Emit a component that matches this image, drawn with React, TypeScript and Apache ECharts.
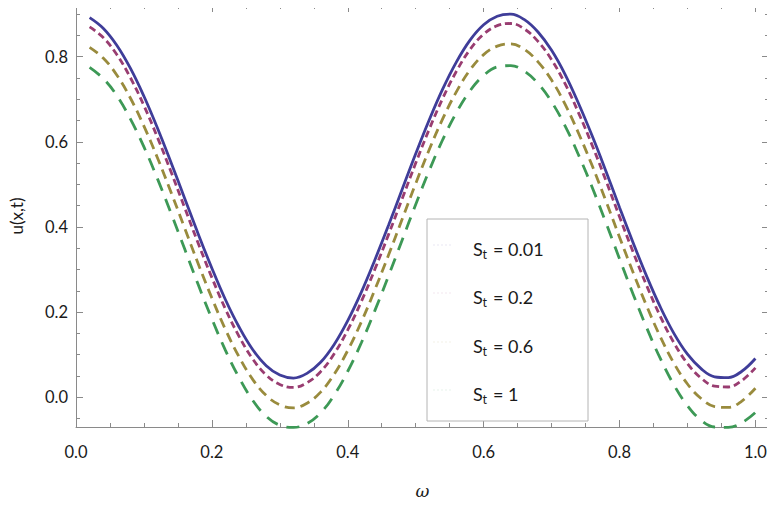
import React, { useEffect, useRef } from "react";
import * as echarts from "echarts";

const omega = [
  0.02, 0.04, 0.06, 0.08, 0.1, 0.12, 0.14, 0.16, 0.18, 0.2,
  0.22, 0.24, 0.26, 0.28, 0.3, 0.32, 0.34, 0.36, 0.38, 0.4,
  0.42, 0.44, 0.46, 0.48, 0.5, 0.52, 0.54, 0.56, 0.58, 0.6,
  0.62, 0.64, 0.66, 0.68, 0.7, 0.72, 0.74, 0.76, 0.78, 0.8,
  0.82, 0.84, 0.86, 0.88, 0.9, 0.92, 0.94, 0.96, 0.98, 1.0,
];

const uSt001 = [
  0.892, 0.867, 0.827, 0.773, 0.707, 0.632, 0.551, 0.467, 0.383, 0.303,
  0.229, 0.165, 0.112, 0.074, 0.052, 0.045, 0.056, 0.082, 0.124, 0.18,
  0.247, 0.323, 0.404, 0.488, 0.572, 0.652, 0.725, 0.788, 0.839, 0.875,
  0.895, 0.9, 0.887, 0.858, 0.815, 0.758, 0.689, 0.613, 0.531, 0.446,
  0.363, 0.284, 0.212, 0.15, 0.101, 0.067, 0.048, 0.046, 0.061, 0.091,
];
const uSt02 = [
  0.87, 0.845, 0.805, 0.751, 0.685, 0.61, 0.529, 0.445, 0.361, 0.281,
  0.207, 0.143, 0.09, 0.052, 0.03, 0.023, 0.034, 0.06, 0.102, 0.158,
  0.225, 0.301, 0.382, 0.466, 0.55, 0.63, 0.703, 0.766, 0.817, 0.853,
  0.873, 0.878, 0.865, 0.836, 0.793, 0.736, 0.667, 0.591, 0.509, 0.424,
  0.341, 0.262, 0.19, 0.128, 0.079, 0.045, 0.026, 0.024, 0.039, 0.069,
];
const uSt06 = [
  0.822, 0.797, 0.757, 0.703, 0.637, 0.562, 0.481, 0.397, 0.313, 0.233,
  0.159, 0.095, 0.042, 0.004, -0.018, -0.025, -0.014, 0.012, 0.054, 0.11,
  0.177, 0.253, 0.334, 0.418, 0.502, 0.582, 0.655, 0.718, 0.769, 0.805,
  0.825, 0.83, 0.817, 0.788, 0.745, 0.688, 0.619, 0.543, 0.461, 0.376,
  0.293, 0.214, 0.142, 0.08, 0.031, -0.003, -0.022, -0.024, -0.009, 0.021,
];
const uSt1 = [
  0.775, 0.749, 0.709, 0.654, 0.588, 0.513, 0.432, 0.348, 0.264, 0.184,
  0.11, 0.046, -0.007, -0.045, -0.066, -0.071, -0.062, -0.037, 0.005, 0.061,
  0.128, 0.204, 0.285, 0.369, 0.453, 0.533, 0.606, 0.669, 0.72, 0.756,
  0.776, 0.779, 0.766, 0.737, 0.694, 0.637, 0.568, 0.492, 0.41, 0.325,
  0.242, 0.163, 0.091, 0.029, -0.02, -0.054, -0.07, -0.071, -0.06, -0.036,
];

const legendLabels = ["0.01", "0.2", "0.6", "1"];
const seriesColors = ["#3F3D99", "#993D71", "#998B3D", "#3D9956"];
const seriesDashes: (number[] | "solid")[] = ["solid", [7, 4], [10, 6], [13, 9]];
const seriesValues = [uSt001, uSt02, uSt06, uSt1];

const xMajor = [0, 0.2, 0.4, 0.6, 0.8, 1.0];
const xMinor = [0.05, 0.1, 0.15, 0.25, 0.3, 0.35, 0.45, 0.5, 0.55, 0.65, 0.7, 0.75, 0.85, 0.9, 0.95];
const yMajor = [0, 0.2, 0.4, 0.6, 0.8];
const yMinor = [-0.05, 0.05, 0.1, 0.15, 0.25, 0.3, 0.35, 0.45, 0.5, 0.55, 0.65, 0.7, 0.75, 0.85, 0.9];

const X_MIN = 0;
const X_MAX = 1.02;
const Y_MIN = -0.07;
const Y_MAX = 0.9215;

const GRAY = "#8a8a8a";
const FONT = "Lato";

function frameAxis(kind: "x" | "y", position: string, ticks: number[], len: number, main: boolean, labels: boolean) {
  const isX = kind === "x";
  return {
    type: "value",
    min: isX ? X_MIN : Y_MIN,
    max: isX ? X_MAX : Y_MAX,
    position,
    axisLine: { show: main, onZero: false, lineStyle: { color: GRAY, width: 1 } },
    axisTick: { show: true, inside: true, length: len, customValues: ticks, lineStyle: { color: GRAY, width: 1 } },
    axisLabel: labels
      ? {
          show: true,
          customValues: ticks,
          formatter: (v: number) => v.toFixed(1),
          fontFamily: FONT,
          fontSize: 16.5,
          color: "#1a1a1a",
          margin: isX ? 16 : 8,
        }
      : { show: false },
    splitLine: { show: false },
    minorTick: { show: false },
  } as any;
}

export default function App() {
  const ref = useRef<HTMLDivElement>(null);

  useEffect(() => {
    if (!ref.current) return;
    const chart = echarts.init(ref.current, undefined, { renderer: "svg" });

    const legendRows = [249, 297, 346, 394];
    const legendGraphics: any[] = [
      {
        type: "rect",
        shape: { x: 427, y: 219, width: 161, height: 202 },
        style: { fill: "#ffffff", stroke: "#b4b4b4", lineWidth: 1 },
        z: 10,
      },
    ];
    legendLabels.forEach((lab, i) => {
      const y = legendRows[i];
      legendGraphics.push({
        type: "line",
        shape: { x1: 433, y1: y - 4, x2: 453, y2: y - 4 },
        style: { stroke: seriesColors[i], opacity: 0.12, lineWidth: 1, lineDash: [2, 2] },
        z: 11,
      });
      legendGraphics.push({
        type: "text",
        x: 473,
        y,
        style: { text: "S", fontFamily: FONT, fontSize: 18, fill: "#1a1a1a", verticalAlign: "middle", textAlign: "left" },
        z: 11,
      });
      legendGraphics.push({
        type: "text",
        x: 482.5,
        y: y + 5,
        style: { text: "t", fontFamily: FONT, fontSize: 12.5, fill: "#1a1a1a", verticalAlign: "middle", textAlign: "left" },
        z: 11,
      });
      legendGraphics.push({
        type: "text",
        x: 493,
        y,
        style: { text: "= " + lab, fontFamily: FONT, fontSize: 18, fill: "#1a1a1a", verticalAlign: "middle", textAlign: "left" },
        z: 11,
      });
    });

    const mainX = frameAxis("x", "bottom", xMajor, 7, true, true);
    mainX.name = "ω";
    mainX.nameLocation = "middle";
    mainX.nameGap = 55;
    mainX.nameTextStyle = { fontFamily: "DejaVu Serif", fontStyle: "italic", fontSize: 17, color: "#1a1a1a" };

    const mainY = frameAxis("y", "left", yMajor, 7, true, true);
    mainY.name = "u(x,t)";
    mainY.nameLocation = "middle";
    mainY.nameRotate = 90;
    mainY.nameGap = 51;
    mainY.nameTextStyle = { fontFamily: FONT, fontSize: 17, color: "#1a1a1a" };

    chart.setOption({
      animation: false,
      backgroundColor: "#ffffff",
      grid: { left: 72.5, right: 6, top: 5, bottom: 79, containLabel: false },
      xAxis: [
        mainX,
        frameAxis("x", "bottom", xMinor, 4, false, false),
        frameAxis("x", "top", xMajor, 7, true, false),
        frameAxis("x", "top", xMinor, 4, false, false),
      ],
      yAxis: [
        mainY,
        frameAxis("y", "left", yMinor, 4, false, false),
        frameAxis("y", "right", yMajor, 7, true, false),
        frameAxis("y", "right", yMinor, 4, false, false),
      ],
      series: seriesValues.map((vals, i) => ({
        type: "line",
        xAxisIndex: 0,
        yAxisIndex: 0,
        data: omega.map((w, j) => [w, vals[j]]),
        showSymbol: false,
        smooth: 0.4,
        clip: false,
        lineStyle: { color: seriesColors[i], width: 2.8, type: seriesDashes[i] },
        z: 5 - i,
      })),
      graphic: legendGraphics,
    });

    return () => chart.dispose();
  }, []);

  return <div ref={ref} style={{ width: 775, height: 506, margin: -8 }} />;
}
